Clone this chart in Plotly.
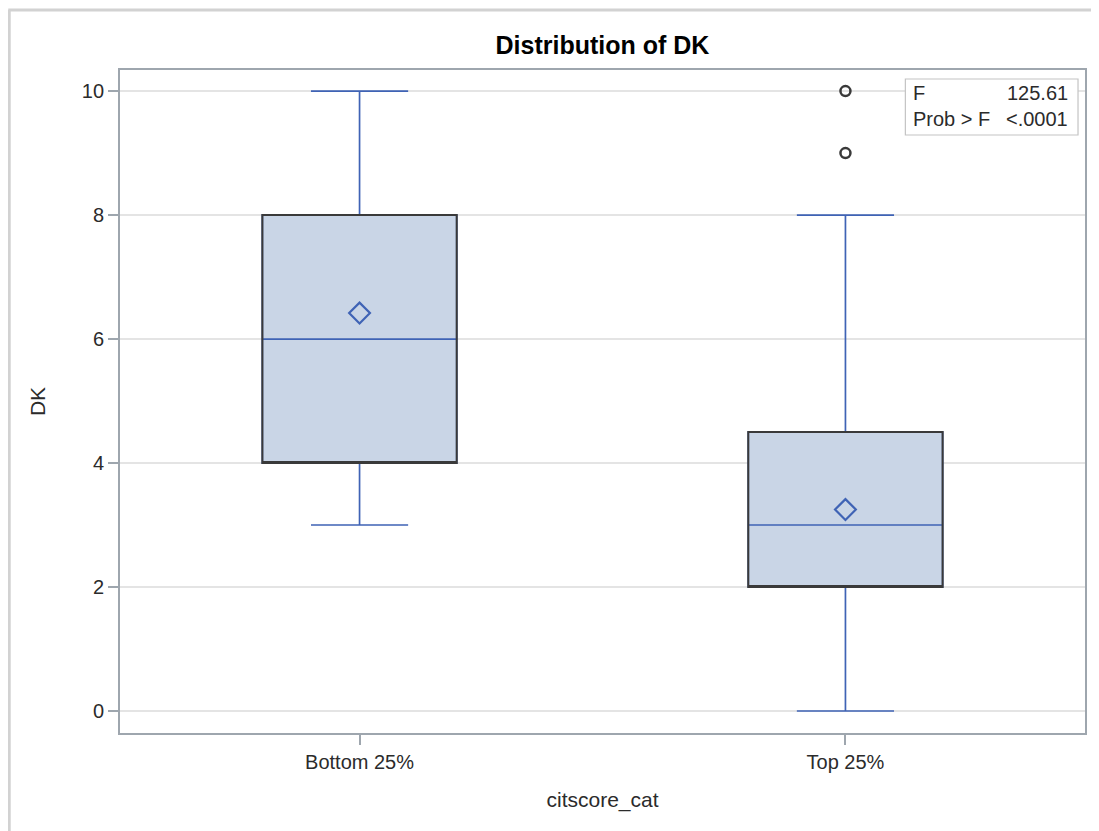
import plotly.graph_objects as go

categories = ["Bottom 25%", "Top 25%"]
q1 = [4, 2]
median = [6, 3]
q3 = [8, 4.5]
lower_whisker = [3, 0]
upper_whisker = [10, 8]
means = [6.42, 3.25]
outlier_cat = ["Top 25%", "Top 25%"]
outlier_val = [10, 9]
f_value = "125.61"
prob_f = "<.0001"
y_ticks = [0, 2, 4, 6, 8, 10]

BLUE = "#3f63b5"
FILL = "#c9d5e6"
DARK = "#3a3a3a"
TXT = "#2b2b2b"
AX = "#9ea6ae"
FONT = "Liberation Sans, Arial, sans-serif"

# figure geometry (page body has 8px margin)
W, H = 1091, 823
L, R, T, B = 112, 12, 62, 98
pw, ph = W - L - R, H - T - B

def px(x):
    return (x - L) / pw

def py(y):
    return 1 - (y - T) / ph

fig = go.Figure()
fig.add_trace(go.Box(
    x=categories, q1=q1, median=median, q3=q3,
    lowerfence=lower_whisker, upperfence=upper_whisker,
    width=0.4, whiskerwidth=0.5, fillcolor=FILL,
    line=dict(color=BLUE, width=1.7), boxpoints=False, hoverinfo="skip",
    showlegend=False,
))
fig.add_trace(go.Box(
    x=categories, q1=q1, median=q1, q3=q3,
    lowerfence=q1, upperfence=q3,
    width=0.4, whiskerwidth=0, fillcolor="rgba(0,0,0,0)",
    line=dict(color=DARK, width=2), boxpoints=False, hoverinfo="skip",
    showlegend=False,
))
fig.add_trace(go.Scatter(
    x=categories, y=means, mode="markers",
    marker=dict(symbol="diamond-open", size=16, color=BLUE, line=dict(width=2.2, color=BLUE)),
    showlegend=False,
))
fig.add_trace(go.Scatter(
    x=outlier_cat, y=outlier_val, mode="markers",
    marker=dict(symbol="circle-open", size=10, color=DARK, line=dict(width=2.5, color=DARK)),
    showlegend=False,
))

fig.update_layout(
    width=W, height=H,
    margin=dict(l=L, r=R, t=T, b=B),
    paper_bgcolor="white", plot_bgcolor="white",
    boxmode="overlay",
    font=dict(family=FONT, size=20, color=TXT),
    title=dict(text="<b>Distribution of DK</b>", xref="paper", x=0.5, xanchor="center",
               yref="container", y=1 - 37 / H, yanchor="middle",
               font=dict(family=FONT, size=25, color="#000000")),
    xaxis=dict(
        range=[-0.493, 1.493], showline=True, mirror=True, linecolor=AX, linewidth=1.8,
        ticks="outside", ticklen=10, tickcolor=AX, tickwidth=1.5,
        showgrid=False, zeroline=False,
        title=dict(text="citscore_cat", standoff=20, font=dict(family=FONT, size=21, color=TXT)),
        tickfont=dict(family=FONT, size=20, color=TXT),
    ),
    yaxis=dict(
        range=[-0.355, 10.34], tickvals=y_ticks, showline=True, mirror=True,
        linecolor=AX, linewidth=1.8, ticks="outside", ticklen=10,
        tickcolor=AX, tickwidth=1.5, showgrid=True, gridcolor="#e4e4e4",
        gridwidth=1.5, zeroline=False,
        title=dict(text="DK", standoff=30, font=dict(family=FONT, size=21, color=TXT)),
        tickfont=dict(family=FONT, size=20, color=TXT),
    ),
)

# outer frame
fig.add_shape(type="line", xref="paper", yref="paper", x0=px(0), x1=px(W), y0=py(2), y1=py(2),
              line=dict(color="#d2d2d2", width=3))
fig.add_shape(type="line", xref="paper", yref="paper", x0=px(1), x1=px(1), y0=py(2), y1=py(H),
              line=dict(color="#d2d2d2", width=3))

# inset stats box
fig.add_shape(type="rect", xref="paper", yref="paper", x0=px(899), x1=px(1072), y0=py(127), y1=py(71),
              line=dict(color="#c4c4c4", width=1.2), fillcolor="white")
tf = dict(family=FONT, size=20, color=TXT)
fig.add_annotation(xref="paper", yref="paper", x=px(905), y=py(85), text="F", showarrow=False,
                   xanchor="left", yanchor="middle", font=tf)
fig.add_annotation(xref="paper", yref="paper", x=px(1064), y=py(85), text=f_value, showarrow=False,
                   xanchor="right", yanchor="middle", font=tf)
fig.add_annotation(xref="paper", yref="paper", x=px(905), y=py(111), text="Prob > F", showarrow=False,
                   xanchor="left", yanchor="middle", font=tf)
fig.add_annotation(xref="paper", yref="paper", x=px(1064), y=py(111), text=prob_f, showarrow=False,
                   xanchor="right", yanchor="middle", font=tf)

fig.write_html("out.html")
